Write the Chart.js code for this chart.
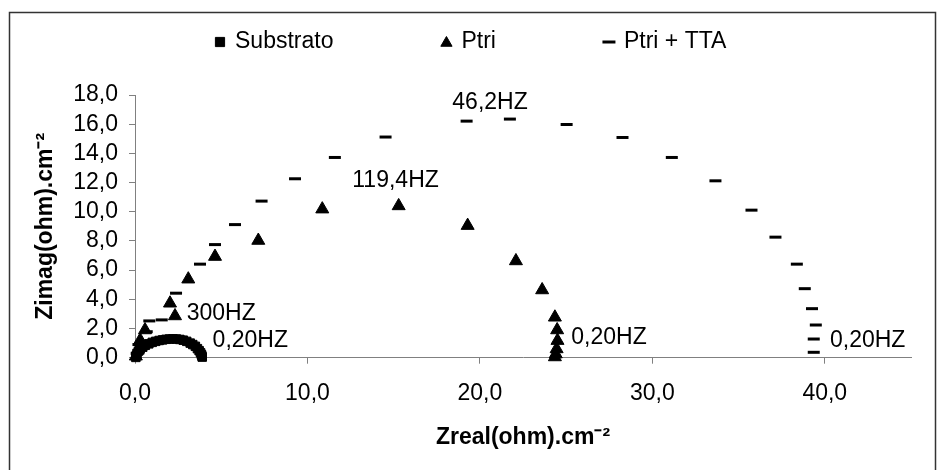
<!DOCTYPE html>
<html>
<head>
<meta charset="utf-8">
<script src="https://cdn.jsdelivr.net/npm/chart.js@4.4.1/dist/chart.umd.min.js"></script>
<style>
  html, body { margin: 0; padding: 0; background: #fff; }
</style>
</head>
<body>
<canvas id="nyquist" width="942" height="470"></canvas>
<script>
// Nyquist plot values (ohm.cm-2)
const substratoRe = [0.05, 0.08, 0.12, 0.2, 0.3, 0.45, 0.6, 0.8, 1.0, 1.2, 1.4, 1.6, 1.8, 2.0,
                     2.2, 2.4, 2.6, 2.8, 3.0, 3.2, 3.35, 3.5, 3.62, 3.72, 3.8, 3.85, 3.88, 3.9];
const substratoIm = [0.02, 0.15, 0.3, 0.45, 0.6, 0.72, 0.85, 0.95, 1.05, 1.12, 1.18, 1.22, 1.26, 1.28,
                     1.29, 1.28, 1.25, 1.2, 1.12, 1.0, 0.9, 0.78, 0.62, 0.48, 0.34, 0.22, 0.12, 0.04];

const ptriRe = [0.05, 0.15, 0.3, 0.58, 2.03, 2.32, 3.09, 4.64, 7.15, 10.86, 15.29, 19.29, 22.09,
                23.61, 24.35, 24.48, 24.5, 24.45, 24.4, 24.35];
const ptriIm = [0.1, 0.5, 1.2, 1.9, 3.73, 2.86, 5.38, 6.93, 8.03, 10.18, 10.4, 9.05, 6.63,
                4.64, 2.77, 1.9, 1.17, 0.6, 0.25, 0.05];

const ttaRe = [0.1, 0.2, 0.68, 0.83, 1.55, 2.38, 3.77, 4.64, 5.8, 7.34, 9.28, 11.59, 14.53, 19.23,
               21.74, 25.03, 28.27, 31.13, 33.66, 35.75, 37.14, 38.38, 38.84, 39.26, 39.48, 39.36, 39.36];
const ttaIm = [0.3, 0.9, 1.78, 2.52, 2.59, 4.42, 6.41, 7.75, 9.12, 10.73, 12.26, 13.72, 15.12, 16.21,
               16.35, 15.98, 15.09, 13.72, 12.12, 10.11, 8.26, 6.41, 4.73, 3.36, 2.24, 1.28, 0.37];

const xTicks = [0, 10, 20, 30, 40];
const yTicks = [0, 2, 4, 6, 8, 10, 12, 14, 16, 18];

// frequency notes: text, zreal, zimag (where the text starts)
const freqLabels = [
  ['300HZ', 3.0, 3.0],
  ['0,20HZ', 4.5, 1.2],
  ['119,4HZ', 12.6, 12.1],
  ['46,2HZ', 18.4, 17.45],
  ['0,20HZ', 25.3, 1.4],
  ['0,20HZ', 40.3, 1.2]
];

const FONT = '"Liberation Sans", Arial, Helvetica, sans-serif';
const pairs = (xs, ys) => xs.map((x, i) => ({ x: x, y: ys[i] }));
const comma = v => v.toFixed(1).replace('.', ',');

const framePlugin = {
  id: 'frame',
  beforeDraw(chart) {
    const c = chart.ctx;
    c.save();
    c.fillStyle = '#fff';
    c.fillRect(0, 0, chart.width, chart.height);
    c.strokeStyle = '#333';
    c.lineWidth = 1.5;
    c.strokeRect(9.5, 12.5, 926, 470);
    c.restore();
  }
};

const freqPlugin = {
  id: 'freqText',
  afterDatasetsDraw(chart) {
    const c = chart.ctx;
    const sx = chart.scales.x, sy = chart.scales.y;
    c.save();
    c.font = '23px ' + FONT;
    c.fillStyle = '#000';
    c.textAlign = 'left';
    c.textBaseline = 'middle';
    freqLabels.forEach(l => {
      c.fillText(l[0], sx.getPixelForValue(l[1]), sy.getPixelForValue(l[2]));
    });
    c.restore();
  }
};

// one-row legend with wide gaps, as in the original
const legendPlugin = {
  id: 'legendRow',
  afterDraw(chart) {
    const c = chart.ctx;
    c.save();
    c.font = '23px ' + FONT;
    c.textBaseline = 'middle';
    c.fillStyle = '#000';
    c.strokeStyle = '#000';
    let x = 220;
    const y = 42;
    chart.data.datasets.forEach(ds => {
      const isLine = ds.pointStyle === 'line';
      c.lineWidth = isLine ? 3 : 1;
      Chart.helpers.drawPoint(c, { pointStyle: ds.pointStyle, radius: 6.5, borderWidth: c.lineWidth, rotation: 0 },
        x, ds.pointStyle === 'triangle' ? y + 1 : y);
      c.fillText(ds.label, x + 15, y);
      x += 15 + c.measureText(ds.label).width + 113;
    });
    c.restore();
  }
};

const axisCommon = {
  grid: { drawOnChartArea: false, tickLength: 6, color: '#808080', lineWidth: 1 },
  border: { color: '#808080', width: 1 }
};

new Chart(document.getElementById('nyquist'), {
  type: 'scatter',
  data: {
    datasets: [{
      label: 'Substrato',
      data: pairs(substratoRe, substratoIm),
      pointStyle: 'rect',
      pointRadius: 6,
      backgroundColor: '#000',
      borderColor: '#000',
      clip: false
    }, {
      label: 'Ptri',
      data: pairs(ptriRe, ptriIm),
      pointStyle: 'triangle',
      pointRadius: 7.5,
      backgroundColor: '#000',
      borderColor: '#000',
      clip: false
    }, {
      label: 'Ptri + TTA',
      data: pairs(ttaRe, ttaIm),
      pointStyle: 'line',
      pointRadius: 6,
      pointBorderWidth: 3,
      backgroundColor: '#000',
      borderColor: '#000',
      clip: false
    }]
  },
  options: {
    responsive: false,
    devicePixelRatio: 1,
    animation: false,
    events: [],
    layout: { padding: { top: 95, right: 31, bottom: 0, left: 0 } },
    plugins: { legend: { display: false }, tooltip: { enabled: false } },
    scales: {
      x: {
        ...axisCommon,
        type: 'linear',
        min: 0,
        max: 45,
        afterBuildTicks: s => { s.ticks = xTicks.map(v => ({ value: v })); },
        afterFit: s => { s.height = 112.3; },
        ticks: { color: '#000', padding: 16, autoSkip: false, maxRotation: 0,
                 font: { size: 23, family: FONT }, callback: comma },
        title: {
          display: true,
          text: 'Zreal(ohm).cm⁻²',
          color: '#000',
          font: { size: 23, weight: 'bold', family: FONT },
          padding: { top: 0, bottom: 19 }
        }
      },
      y: {
        ...axisCommon,
        type: 'linear',
        min: 0,
        max: 18,
        afterBuildTicks: s => { s.ticks = yTicks.map(v => ({ value: v })); },
        afterFit: s => { s.width = 135; },
        ticks: { color: '#000', padding: 11, autoSkip: false,
                 font: { size: 23, family: FONT }, callback: comma },
        title: {
          display: true,
          text: 'Zimag(ohm).cm⁻²',
          color: '#000',
          font: { size: 23, weight: 'bold', family: FONT },
          padding: { top: 32, bottom: 0 }
        }
      }
    }
  },
  plugins: [framePlugin, freqPlugin, legendPlugin]
});
</script>
</body>
</html>
